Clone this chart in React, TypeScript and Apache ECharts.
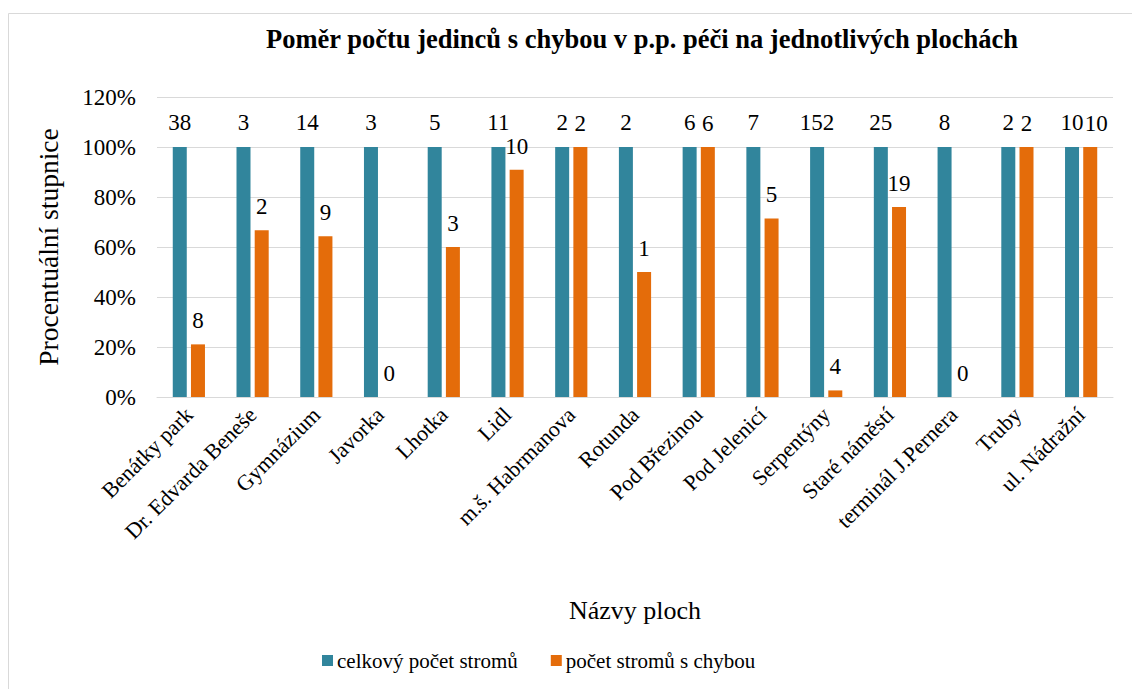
import React, { useEffect, useRef } from "react";
import * as echarts from "echarts";

const categories = [
  "Benátky park",
  "Dr. Edvarda Beneše",
  "Gymnázium",
  "Javorka",
  "Lhotka",
  "Lidl",
  "m.š. Habrmanova",
  "Rotunda",
  "Pod Březinou",
  "Pod Jelenicí",
  "Serpentýny",
  "Staré náměstí",
  "terminál J.Pernera",
  "Truby",
  "ul. Nádražní",
];

// bar heights (percent)
const totalPercent = [100, 100, 100, 100, 100, 100, 100, 100, 100, 100, 100, 100, 100, 100, 100];
const errorPercent = [21.05, 66.67, 64.29, 0, 60, 90.91, 100, 50, 100, 71.43, 2.63, 76, 0, 100, 100];

// data labels (counts)
const totalCounts = [38, 3, 14, 3, 5, 11, 2, 2, 6, 7, 152, 25, 8, 2, 10];
const errorCounts = [8, 2, 9, 0, 3, 10, 2, 1, 6, 5, 4, 19, 0, 2, 10];

const yTicks = [0, 20, 40, 60, 80, 100, 120];

const FONT = "'Liberation Serif', 'Times New Roman', serif";

export default function App() {
  const ref = useRef<HTMLDivElement>(null);
  useEffect(() => {
    if (!ref.current) return;
    const chart = echarts.init(ref.current, undefined, { renderer: "svg" });
    // nudge the orange label where two wide labels would collide
    const errorData = errorPercent.map((v, i) =>
      String(totalCounts[i]).length > 1 && String(errorCounts[i]).length > 1 && v >= 99
        ? { value: v, label: { offset: [6, 0] } }
        : v
    );
    chart.setOption({
      animation: false,
      backgroundColor: "#ffffff",
      textStyle: { fontFamily: FONT },
      graphic: [
        {
          type: "rect",
          shape: { x: 8.5, y: 13.5, width: 1200, height: 700 },
          style: { fill: "none", stroke: "#d9d9d9", lineWidth: 1 },
          silent: true,
        },
      ],
      title: {
        text: "Poměr počtu jedinců s chybou v p.p. péči na jednotlivých plochách",
        left: 637,
        top: 20,
        textAlign: "center",
        textStyle: { fontFamily: FONT, fontSize: 26.5, fontWeight: "bold", color: "#000" },
      },
      legend: {
        data: ["celkový počet stromů", "počet stromů s chybou"],
        left: 322,
        top: 650,
        padding: 0,
        itemWidth: 11,
        itemHeight: 11,
        itemGap: 33,
        icon: "rect",
        textStyle: { fontFamily: FONT, fontSize: 21, color: "#000", padding: [0, 0, 0, -1] },
      },
      grid: { left: 157, right: 19, top: 97, bottom: 292, containLabel: false },
      xAxis: {
        type: "category",
        data: categories,
        name: "Názvy ploch",
        nameLocation: "middle",
        nameGap: 200,
        nameTextStyle: { fontFamily: FONT, fontSize: 26, color: "#000" },
        axisLine: { lineStyle: { color: "#d9d9d9", width: 1 } },
        axisTick: { show: false },
        axisLabel: {
          rotate: 45,
          interval: 0,
          margin: 14,
          fontFamily: FONT,
          fontSize: 22,
          color: "#000",
        },
      },
      yAxis: {
        type: "value",
        min: yTicks[0],
        max: yTicks[yTicks.length - 1],
        interval: 20,
        name: "Procentuální stupnice",
        nameLocation: "middle",
        nameGap: 95,
        nameRotate: 90,
        nameTextStyle: { fontFamily: FONT, fontSize: 27.5, color: "#000" },
        axisLine: { show: false },
        axisTick: { show: false },
        splitLine: { lineStyle: { color: "#d9d9d9", width: 1 } },
        axisLabel: {
          formatter: "{value}%",
          margin: 21,
          fontFamily: FONT,
          fontSize: 23,
          color: "#000",
        },
      },
      series: [
        {
          name: "celkový počet stromů",
          type: "bar",
          data: totalPercent,
          barWidth: 14,
          barGap: "30%",
          itemStyle: { color: "#31859c" },
          label: {
            show: true,
            position: "top",
            distance: 13,
            fontFamily: FONT,
            fontSize: 23,
            color: "#000",
            formatter: (p: any) => String(totalCounts[p.dataIndex]),
          },
        },
        {
          name: "počet stromů s chybou",
          type: "bar",
          data: errorData,
          barWidth: 14,
          itemStyle: { color: "#e46c0a" },
          label: {
            show: true,
            position: "top",
            distance: 12,
            fontFamily: FONT,
            fontSize: 23,
            color: "#000",
            formatter: (p: any) => String(errorCounts[p.dataIndex]),
          },
        },
      ],
    });
    return () => chart.dispose();
  }, []);
  return (
    <div
      ref={ref}
      style={{ position: "absolute", left: 0, top: 0, width: 1132, height: 689 }}
    />
  );
}
